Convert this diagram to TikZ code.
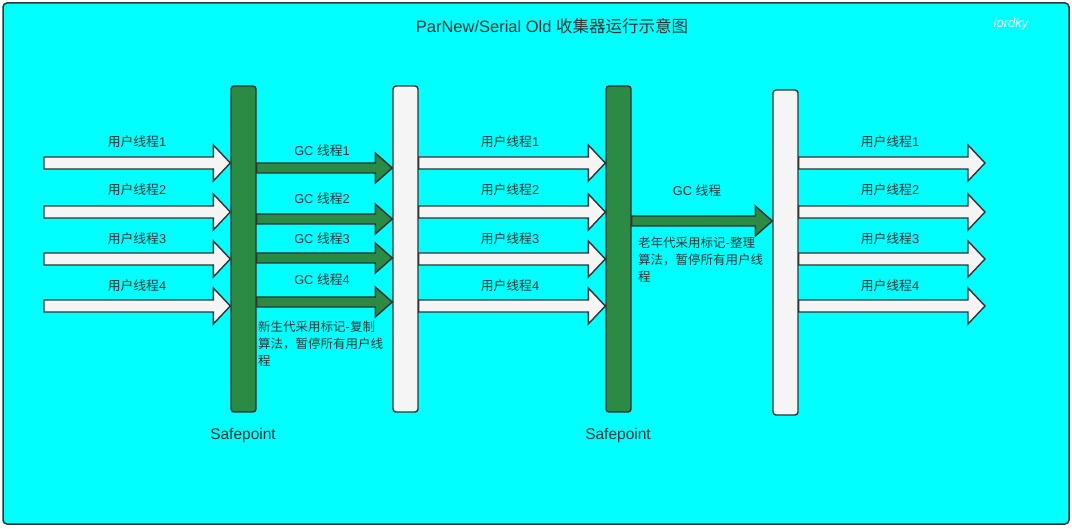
\documentclass[tikz,border=0pt]{standalone}
\usepackage{fontspec}
\setmainfont{Liberation Sans}
\newfontfamily\cjk{Noto Sans CJK SC}
\usetikzlibrary{calc}
\definecolor{cyanbg}{HTML}{00FFFF}
\definecolor{edge}{HTML}{333333}
\definecolor{gcgreen}{HTML}{2B8A44}
\definecolor{barwhite}{HTML}{F5F5F5}
\tikzset{
  panel/.style={draw=edge, fill=cyanbg, line width=1.5pt, rounded corners=4pt},
  gbar/.style={draw=edge, fill=gcgreen, line width=1.4pt, rounded corners=3pt, minimum width=25pt, inner sep=0pt},
  wbar/.style={draw=edge, fill=barwhite, line width=1.4pt, rounded corners=3pt, minimum width=25pt, inner sep=0pt},
  userarrow/.style={draw=edge, fill=barwhite, line width=1.4pt, line join=miter},
  gcarrow/.style={draw=edge, fill=gcgreen, line width=1.4pt, line join=miter},
  lbl/.style={text=edge, font=\fontsize{12.8}{15}\selectfont, inner sep=0pt},
  desc/.style={text=edge, font=\cjk\fontsize{12.5}{17}\selectfont, inner sep=0pt, align=left, anchor=north west},
}
% #1 style, #2 start, #3 end, #4 shaft half, #5 head half, #6 head length
\newcommand\blockarr[6]{%
  \draw[#1] let \p1=(#2), \p2=(#3) in
    (\x1,\y1+#4) -- (\x2-#6,\y1+#4) -- (\x2-#6,\y1+#5) -- (\x2,\y1)
    -- (\x2-#6,\y1-#5) -- (\x2-#6,\y1-#4) -- (\x1,\y1-#4) -- cycle;}
\begin{document}
\begin{tikzpicture}[x=1pt,y=-1pt]
\useasboundingbox (0,0) rectangle (1072,529);
\fill[white] (0,0) rectangle (1072,529);
\draw[panel] (3,3) rectangle (1069,524);

% title and watermark
\node[text=edge, font=\fontsize{16.5}{19}\selectfont, inner sep=0pt] (title) at (552,26) {ParNew/Serial Old {\cjk 收集器运行示意图}};
\node[text=white, font=\itshape\fontsize{13}{15}\selectfont, inner sep=0pt] (wm) at (1011,24) {lordky};

% bars
\node[gbar, minimum height=326pt] (g1) at (243.5,249) {};
\node[wbar, minimum height=326pt] (w1) at (405.5,249) {};
\node[gbar, minimum height=326pt] (g2) at (618.5,249) {};
\node[wbar, minimum height=325pt] (w2) at (785.5,252.5) {};

% user thread arrows, three columns
\foreach \i/\y in {1/163,2/212,3/259,4/306}{
  \coordinate (a\i) at (44,\y);
  \coordinate (b\i) at (w1.east |- 0,\y);
  \coordinate (c\i) at (w2.east |- 0,\y);
  \coordinate (d\i) at (985,\y);
  \blockarr{userarrow}{a\i}{g1.west |- a\i}{6pt}{18pt}{17pt}
  \blockarr{userarrow}{b\i}{g2.west |- b\i}{6pt}{18pt}{17pt}
  \blockarr{userarrow}{c\i}{d\i}{6pt}{18pt}{17pt}
}
\foreach \i/\y in {1/142,2/190,3/239,4/286}{
  \node[lbl] (ua\i) at (137,\y) {{\cjk 用户线程}\i};
  \node[lbl] (ub\i) at (510,\y) {{\cjk 用户线程}\i};
  \node[lbl] (uc\i) at (890,\y) {{\cjk 用户线程}\i};
}

% GC threads (young)
\foreach \i/\y/\ly in {1/168/151,2/219/199,3/258/239,4/302/280}{
  \coordinate (gs\i) at (g1.east |- 0,\y);
  \blockarr{gcarrow}{gs\i}{w1.west |- gs\i}{5pt}{15pt}{17pt}
  \node[lbl] (gl\i) at (322,\ly) {GC {\cjk 线程}\i};
}
\node[desc] (d1) at (258,321) {新生代采用标记-复制\\算法，暂停所有用户线\\程};

% GC thread (old)
\coordinate (og) at (g2.east |- 0,221);
\blockarr{gcarrow}{og}{w2.west |- og}{5pt}{15pt}{17pt}
\node[lbl] (ogl) at (697,191) {GC {\cjk 线程}};
\node[desc] (d2) at (638,237) {老年代采用标记-整理\\算法，暂停所有用户线\\程};

% safepoints
\node[text=edge, font=\fontsize{15.5}{18}\selectfont, inner sep=0pt] (s1) at (243,435) {Safepoint};
\node[text=edge, font=\fontsize{15.5}{18}\selectfont, inner sep=0pt] (s2) at (618,435) {Safepoint};
\end{tikzpicture}
\end{document}
